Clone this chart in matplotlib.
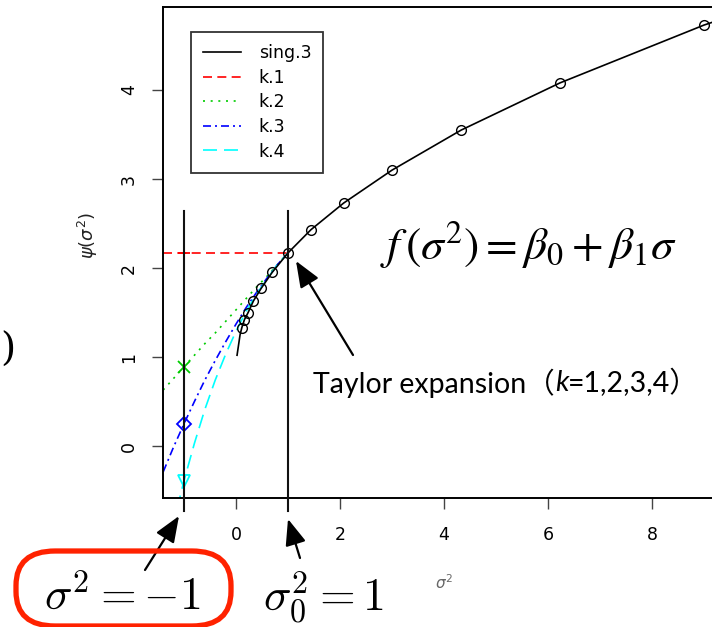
import matplotlib
matplotlib.use("Agg")
import matplotlib.pyplot as plt
from matplotlib.patches import FancyBboxPatch
from matplotlib.lines import Line2D

# ---- data -------------------------------------------------------------
# singular-value curve psi(sigma^2)
sigma2 = [0.02, 0.078, 0.112, 0.162, 0.233, 0.335, 0.482, 0.694, 1.0,
          1.44, 2.07, 3.0, 4.33, 6.23, 9.0, 12.9]
psi = [1.02, 1.25, 1.33, 1.42, 1.50, 1.63, 1.77, 1.95, 2.17,
       2.43, 2.73, 3.10, 3.55, 4.08, 4.73, 5.49]

# Taylor expansions around sigma^2 = 1
taylor_x = [-1.4, -1.2, -1.0, -0.8, -0.6, -0.4, -0.2, 0.0, 0.2, 0.4, 0.6, 0.8, 1.0]
k1 = [2.17] * 13
k2 = [0.63, 0.76, 0.89, 1.02, 1.15, 1.27, 1.40, 1.53, 1.66, 1.79, 1.91, 2.04, 2.17]
k3 = [-0.29, -0.01, 0.25, 0.50, 0.74, 0.96, 1.17, 1.37, 1.56, 1.73, 1.89, 2.04, 2.17]
k4 = [-1.40, -0.86, -0.39, 0.03, 0.41, 0.74, 1.03, 1.29, 1.52, 1.71, 1.88, 2.04, 2.17]

# extrapolated values at sigma^2 = -1
x_eval = -1.0
eval_vals = [2.17, 0.89, 0.25, -0.39]
expansion_point = 1.0

xticks = [0, 2, 4, 6, 8]
yticks = [0, 1, 2, 3, 4]
legend_labels = ["sing.3", "k.1", "k.2", "k.3", "k.4"]

# ---- figure -----------------------------------------------------------
W, H = 712, 627
fig = plt.figure(figsize=(W / 100, H / 100), dpi=100)


def fx(px):
    return px / W


def fy(py):
    return 1 - py / H


def fp(px, py):
    return (px, H - py)


ax = fig.add_axes([fx(163), fy(498), fx(725) - fx(163), fy(7) - fy(498)])
ax.set_xlim(-1.404, 9.404)
ax.set_ylim(-0.584, 4.933)

styles = [
    dict(color="red", ls=(0, (5.4, 3.2)), marker="+"),
    dict(color="#00cc00", ls=(0, (1.2, 3.4)), marker="x"),
    dict(color="blue", ls=(0, (4.8, 2.4, 1.2, 2.4)), marker="D"),
    dict(color="cyan", ls=(0, (8.4, 4.2)), marker="v"),
]
series = [k1, k2, k3, k4]

for ys, st in zip(series, styles):
    ax.plot(taylor_x, ys, color=st["color"], ls=st["ls"], lw=1.2)
for val, st in zip(eval_vals, styles):
    ms = 7 if st["marker"] in "D" else 9
    ax.plot([x_eval], [val], ls="none", marker=st["marker"], ms=ms,
            mfc="none", mec=st["color"], mew=1.3, clip_on=False, zorder=5)

ax.plot(sigma2, psi, color="black", lw=1.2, marker="o", ms=7, mfc="none",
        mec="black", mew=1.0, markevery=slice(2, None), zorder=4)

# vertical guide lines at sigma^2 = -1 and sigma^2 = 1
for xv in (x_eval, expansion_point):
    ax.plot([xv, xv], [2.64, -0.73], color="#111111", lw=1.5,
            clip_on=False, zorder=6)

ax.set_xticks(xticks)
ax.set_yticks(yticks)
ax.set_xticklabels([str(t) for t in xticks])
ax.set_yticklabels([str(t) for t in yticks])
ax.tick_params(axis="both", direction="out", length=8, width=1.0,
               color="#444444", labelsize=12.5, labelcolor="black")
ax.tick_params(axis="x", pad=12)
ax.tick_params(axis="y", pad=10)
for lab in ax.get_yticklabels():
    lab.set_rotation(90)
    lab.set_va("center")
for sp in ax.spines.values():
    sp.set_linewidth(1.4)
    sp.set_color("black")

fig.text(fx(444), fy(583), r"$\sigma^2$", fontsize=11, color="#666666",
         ha="center", va="center")
fig.text(fx(88), fy(235), r"$\psi(\sigma^2)$", fontsize=13, color="#222222",
         ha="center", va="center", rotation=90)

# legend
handles = [Line2D([], [], color="black", lw=1.2)]
for st in styles:
    handles.append(Line2D([], [], color=st["color"], ls=st["ls"], lw=1.2))
leg = fig.legend(handles, legend_labels, loc="upper left",
                 bbox_to_anchor=(fx(191), fy(32)), fontsize=12.5,
                 frameon=True, fancybox=False, handlelength=2.2,
                 handletextpad=1.0, labelspacing=0.38, borderpad=0.7,
                 borderaxespad=0)
leg.get_frame().set_edgecolor("black")
leg.get_frame().set_linewidth(1.3)

# formula
fig.text(fx(529), fy(245), r"$f\,(\sigma^2) = \beta_0 + \beta_1\sigma$",
         fontsize=33, ha="center", va="center", math_fontfamily="stix")

# Taylor expansion caption with italic k
fam = ["Lato", "Noto Sans CJK JP"]
fs_cap = 20.5
t1 = fig.text(fx(313), fy(383), "Taylor expansion（", fontsize=fs_cap,
              family=fam, ha="left", va="center")
fig.canvas.draw()
r = fig.canvas.get_renderer()
bb = t1.get_window_extent(r)
t2 = fig.text(bb.x1 / W, fy(383), "k", fontsize=fs_cap, family=fam,
              style="italic", ha="left", va="center")
bb2 = t2.get_window_extent(r)
fig.text(bb2.x1 / W, fy(383), "=1,2,3,4）", fontsize=fs_cap, family=fam,
         ha="left", va="center")

arrow = dict(arrowstyle="-|>,head_length=0.8,head_width=0.32",
             color="black", lw=1.6, shrinkA=0, shrinkB=0, mutation_scale=20)
ax.annotate("", xy=fp(296, 261), xytext=fp(353, 355),
            xycoords="figure pixels", textcoords="figure pixels",
            arrowprops=arrow, annotation_clip=False)
ax.annotate("", xy=fp(179, 516), xytext=fp(145, 570),
            xycoords="figure pixels", textcoords="figure pixels",
            arrowprops=arrow, annotation_clip=False)
ax.annotate("", xy=fp(288, 519), xytext=fp(300, 558),
            xycoords="figure pixels", textcoords="figure pixels",
            arrowprops=arrow, annotation_clip=False)

# bottom labels
fig.text(fx(122), fy(597), r"$\sigma^2 = -1$", fontsize=33,
         ha="center", va="center", math_fontfamily="cm")
fig.text(fx(323), fy(597), r"$\sigma_0^2 = 1$", fontsize=33,
         ha="center", va="center", math_fontfamily="cm")

# hand-drawn highlight around sigma^2 = -1
loop = FancyBboxPatch((fx(16), fy(626)), fx(231) - fx(16), fy(551) - fy(626),
                      boxstyle="round,pad=0,rounding_size=0.055",
                      transform=fig.transFigure, fill=False,
                      edgecolor="#ff2200", lw=3.8, clip_on=False)
fig.patches.append(loop)

# closing parenthesis at the left edge
fig.text(0.001, fy(350), ")", fontsize=28, family="DejaVu Serif",
         ha="left", va="center")

fig.savefig("out.png", dpi=100)
